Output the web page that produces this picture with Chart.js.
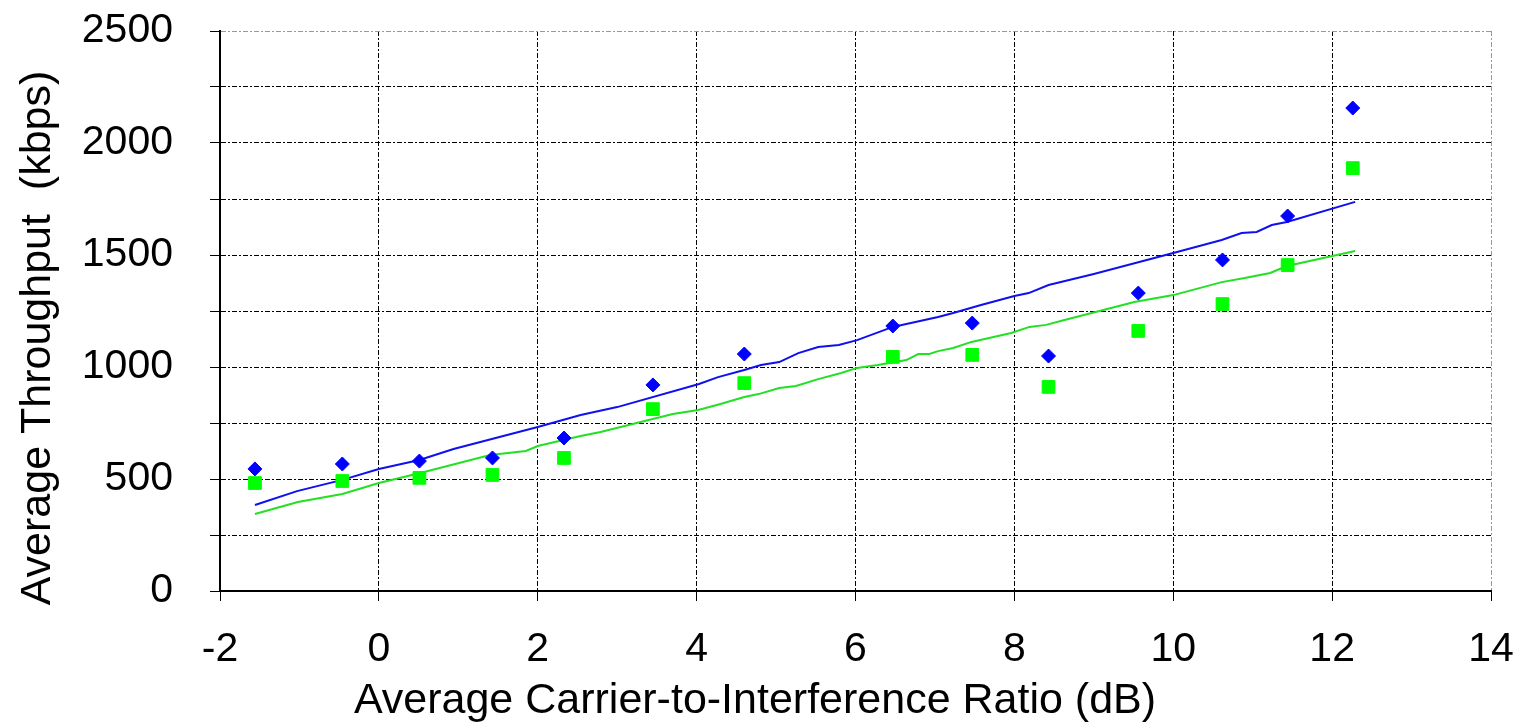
<!DOCTYPE html>
<html lang="en">

<head>
    <meta charset="UTF-8">
    <title>Average Throughput vs C/I</title>
    <script src="https://cdn.jsdelivr.net/npm/chart.js"></script>
    <style>
        body {
            margin: 0;
            background: #fff;
        }

        #wrap {
            width: 1524px;
            height: 727px;
        }
    </style>
</head>

<body>
    <div id="wrap"><canvas id="ciChart" width="1524" height="727"></canvas></div>

    <script>
        // measured points (markers)
        const markX = [-1.56, -0.46, 0.51, 1.43, 2.33, 3.45, 4.6, 6.47, 7.47, 8.43, 9.56, 10.62, 11.44, 12.26];
        const blueMarkY = [545, 567, 580, 594, 683, 920, 1058, 1183, 1196, 1049, 1330, 1478, 1674, 2156];
        const greenMarkY = [482, 491, 505, 518, 594, 812, 928, 1045, 1054, 911, 1161, 1281, 1455, 1888];

        // model curves
        const blueLineX = [-1.56, -1.03, -0.46, 0, 0.51, 0.94, 2.0, 2.54, 3.0, 4.03, 4.27, 4.6, 4.81, 5.04, 5.28, 5.53, 5.79, 6.02,
            6.47, 6.64, 7.04, 7.23, 7.58, 8.0, 8.18, 8.43, 9.0, 10.0, 10.61, 10.86, 11.05, 11.24, 11.43, 12.29];
        const blueLineY = [384, 446, 496, 545, 585, 634, 732, 786, 821, 924, 955, 987, 1009, 1022, 1062, 1089, 1098, 1120,
            1179, 1192, 1223, 1241, 1277, 1317, 1330, 1366, 1415, 1509, 1567, 1598, 1603, 1634, 1647, 1737];
        const greenLineX = [-1.56, -1.02, -0.46, 0, 0.52, 1.4, 1.85, 2.0, 2.54, 2.79, 3.7, 4.02, 4.3, 4.6, 4.78, 5.04, 5.25, 5.53,
            5.82, 6.02, 6.28, 6.64, 6.79, 6.93, 7.04, 7.23, 7.46, 7.96, 8.19, 8.4, 8.63, 9.51, 10.0, 10.61, 10.9, 11.22, 11.43, 12.29];
        const greenLineY = [344, 397, 433, 482, 527, 607, 625, 647, 692, 710, 790, 808, 835, 866, 879, 906, 915, 946,
            973, 996, 1009, 1031, 1058, 1058, 1071, 1085, 1112, 1152, 1179, 1188, 1210, 1290, 1321, 1379, 1397, 1420, 1451, 1518];

        const xTitle = 'Average Carrier-to-Interference Ratio (dB)';
        const yTitle = 'Average Throughput  (kbps)';

        function pairs(xs, ys) {
            return xs.map((x, i) => ({x: x, y: ys[i]}));
        }

        const FONT = "'Liberation Sans', Arial, sans-serif";

        // axis titles placed where the original has them
        const axisTitles = {
            id: 'axisTitles',
            afterDraw(chart) {
                const ctx = chart.ctx;
                ctx.save();
                ctx.fillStyle = '#000';
                ctx.font = '43px ' + FONT;
                ctx.textAlign = 'center';
                ctx.textBaseline = 'alphabetic';
                ctx.fillText(xTitle, 755, 713);
                ctx.translate(50, 338);
                ctx.rotate(-Math.PI / 2);
                ctx.fillText(yTitle, 0, 0);
                ctx.restore();
            }
        };

        new Chart(document.getElementById('ciChart'), {
            type: 'scatter',
            data: {
                datasets: [
                    {
                        data: pairs(markX, blueMarkY),
                        pointStyle: 'rectRot',
                        pointRadius: 7,
                        backgroundColor: '#0000ff',
                        borderColor: '#0000ff',
                        borderWidth: 1
                    },
                    {
                        data: pairs(markX, greenMarkY),
                        pointStyle: 'rect',
                        pointRadius: 9,
                        backgroundColor: '#00ff00',
                        borderColor: '#00ff00',
                        borderWidth: 1
                    },
                    {
                        data: pairs(blueLineX, blueLineY),
                        showLine: true,
                        pointRadius: 0,
                        borderColor: '#1010ee',
                        borderWidth: 2,
                        tension: 0
                    },
                    {
                        data: pairs(greenLineX, greenLineY),
                        showLine: true,
                        pointRadius: 0,
                        borderColor: '#22e022',
                        borderWidth: 2,
                        tension: 0
                    }
                ]
            },
            options: {
                responsive: false,
                animation: false,
                layout: {padding: {top: 31, right: 33, left: 0, bottom: 0}},
                plugins: {
                    legend: {display: false},
                    tooltip: {enabled: false}
                },
                scales: {
                    x: {
                        type: 'linear',
                        min: -2,
                        max: 14,
                        afterFit(scale) {
                            scale.height = 136;
                            scale.paddingLeft = 0;
                            scale.paddingRight = 0;
                        },
                        ticks: {
                            stepSize: 2,
                            color: '#000',
                            padding: 24,
                            font: {family: FONT, size: 41}
                        },
                        grid: {
                            color: ctx => ctx.tick && ctx.tick.value === 14 ? '#999' : '#000',
                            lineWidth: 1,
                            tickLength: 10,
                            tickColor: '#000'
                        },
                        border: {display: true, color: '#000', width: 2, dash: [5, 2, 2, 2]}
                    },
                    y: {
                        min: 0,
                        max: 2500,
                        afterFit(scale) {
                            scale.width = 220;
                            scale.paddingTop = 0;
                            scale.paddingBottom = 0;
                        },
                        ticks: {
                            stepSize: 250,
                            color: '#000',
                            padding: 37,
                            font: {family: FONT, size: 41},
                            callback: v => (v % 500 === 0 ? v : '')
                        },
                        grid: {
                            color: ctx => ctx.tick && ctx.tick.value === 2500 ? '#999' : '#000',
                            lineWidth: 1,
                            tickLength: 10,
                            tickColor: '#000'
                        },
                        border: {display: true, color: '#000', width: 2, dash: [5, 2, 2, 2]}
                    }
                }
            },
            plugins: [axisTitles]
        });
    </script>
</body>
</html>
